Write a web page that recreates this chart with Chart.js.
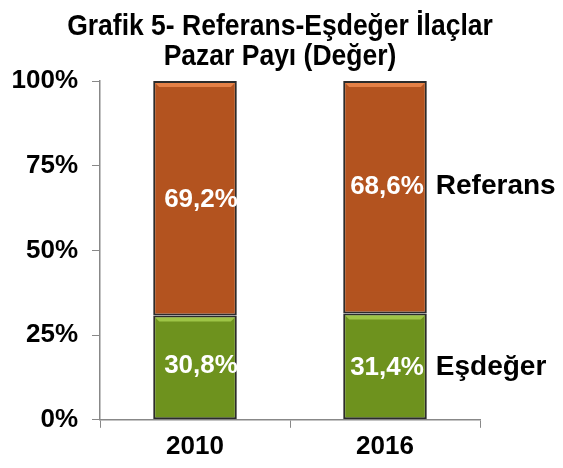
<!DOCTYPE html>
<html><head><meta charset="utf-8">
<script src="https://cdn.jsdelivr.net/npm/chart.js@4"></script>
<style>html,body{margin:0;padding:0;background:#fff}#wrap{width:563px;height:468px}</style>
</head><body><div id="wrap"><canvas id="c" width="563" height="468"></canvas></div>
<script>
const categories = ['2010', '2016'];
const esdeger = [30.8, 31.4];
const referans = [69.2, 68.6];
const seriesNames = ['Eşdeğer', 'Referans'];
const yTicks = [0, 25, 50, 75, 100];
const titleLines = ['Grafik 5- Referans-Eşdeğer İlaçlar', 'Pazar Payı (Değer)'];

const FONT = 'Arial, "Liberation Sans", sans-serif';

const titlePlugin = {
  id: 'titleText',
  afterDraw(chart) {
    const ctx = chart.ctx;
    ctx.save();
    ctx.font = 'bold 26.5px ' + FONT;
    ctx.fillStyle = '#000';
    ctx.textAlign = 'center';
    ctx.textBaseline = 'alphabetic';
    const baselines = [35, 65];
    titleLines.forEach((t, i) => {
      ctx.save();
      ctx.translate(280, baselines[i]);
      ctx.scale(1, 1.12);
      ctx.fillText(t, 0, 0);
      ctx.restore();
    });
    ctx.restore();
  }
};

const bevel = {
  id: 'bevel',
  afterDatasetsDraw(chart) {
    const ctx = chart.ctx;
    const lights = ['rgba(170,210,80,0.8)', 'rgba(240,140,80,0.8)'];
    chart.data.datasets.forEach((ds, di) => {
      chart.getDatasetMeta(di).data.forEach(el => {
        const left = el.x - el.width / 2, right = el.x + el.width / 2;
        const top = Math.min(el.y, el.base);
        ctx.save();
        ctx.fillStyle = lights[di];
        ctx.beginPath();
        ctx.moveTo(left + 2, top + 2);
        ctx.lineTo(right - 2, top + 2);
        ctx.lineTo(right - 6, top + 6);
        ctx.lineTo(left + 6, top + 6);
        ctx.closePath();
        ctx.fill();
        ctx.restore();
      });
    });
  }
};

// small per-label vertical nudges (px) to match the reference placement
const labelNudge = [[-2, 1.5], [1, -10.5]];

const labels = {
  id: 'labels',
  afterDatasetsDraw(chart) {
    const ctx = chart.ctx;
    ctx.save();
    ctx.font = 'bold 26px ' + FONT;
    ctx.fillStyle = '#ffffff';
    ctx.textAlign = 'center';
    ctx.textBaseline = 'middle';
    chart.data.datasets.forEach((ds, di) => {
      chart.getDatasetMeta(di).data.forEach((el, i) => {
        const v = ds.data[i].toFixed(1).replace('.', ',') + '%';
        const cy = (el.y + el.base) / 2 + labelNudge[i][di];
        ctx.fillText(v, el.x + (i === 0 ? 6 : 2), cy);
      });
    });
    ctx.font = 'bold 28px ' + FONT;
    ctx.fillStyle = '#000';
    ctx.textAlign = 'left';
    const last = categories.length - 1;
    chart.data.datasets.forEach((ds, di) => {
      const el = chart.getDatasetMeta(di).data[last];
      const cy = (el.y + el.base) / 2 + labelNudge[last][di];
      ctx.fillText(seriesNames[di], el.x + el.width / 2 + 9, cy);
    });
    ctx.restore();
  }
};

new Chart(document.getElementById('c'), {
  type: 'bar',
  data: {
    labels: categories,
    datasets: [
      { label: seriesNames[0], data: esdeger, backgroundColor: '#6E921E', borderColor: '#2b2b2b', borderWidth: 2, borderSkipped: false },
      { label: seriesNames[1], data: referans, backgroundColor: '#B3531F', borderColor: '#2b2b2b', borderWidth: 2, borderSkipped: false }
    ]
  },
  options: {
    responsive: false,
    animation: false,
    layout: { padding: { left: 0, right: 83, top: 81, bottom: 3 } },
    datasets: { bar: { categoryPercentage: 1, barPercentage: 0.44 } },
    plugins: {
      legend: { display: false },
      tooltip: { enabled: false },
      title: { display: false }
    },
    scales: {
      x: {
        stacked: true,
        grid: { display: true, drawOnChartArea: false, drawTicks: true, tickLength: 8, color: '#888', offset: true },
        border: { display: true, color: '#888', width: 1.5 },
        ticks: { color: '#000', font: { family: FONT, size: 26, weight: 'bold', lineHeight: 1.2 }, padding: 3 }
      },
      y: {
        stacked: true,
        min: 0, max: 100,
        afterBuildTicks(axis) { axis.ticks = yTicks.map(v => ({ value: v })); },
        afterFit(axis) { axis.width = 100; },
        grid: { display: true, drawOnChartArea: false, drawTicks: true, tickLength: 8, color: '#888' },
        border: { display: true, color: '#888', width: 1.5 },
        ticks: { color: '#000', font: { family: FONT, size: 26, weight: 'bold' }, padding: 14, callback: v => v + '%' }
      }
    }
  },
  plugins: [bevel, labels, titlePlugin]
});
</script></body></html>
